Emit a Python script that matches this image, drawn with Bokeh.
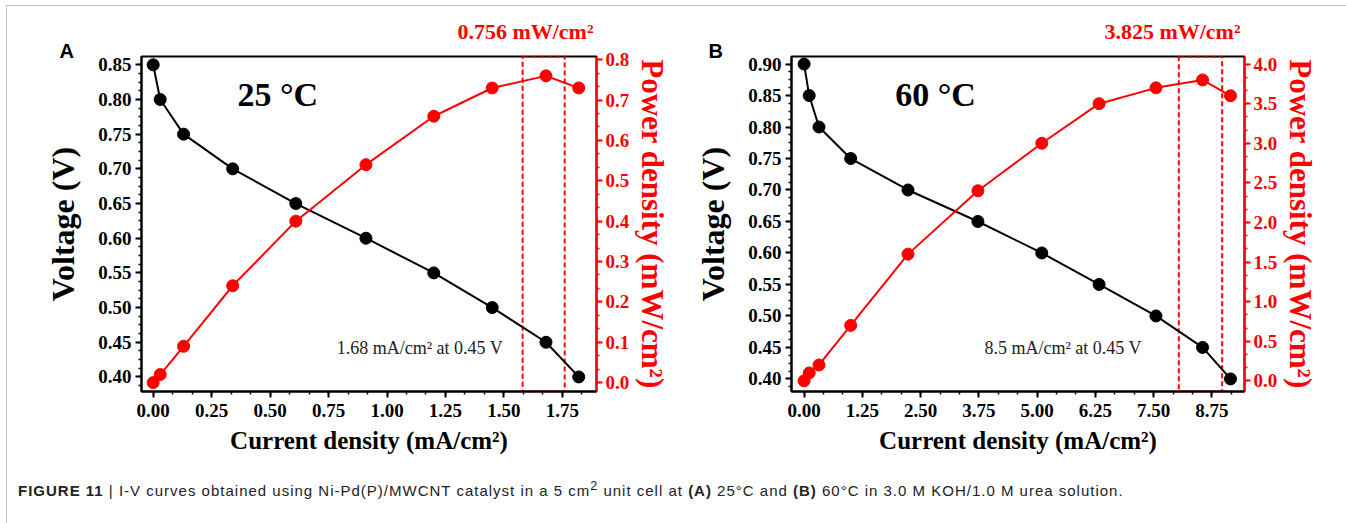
from bokeh.plotting import figure
from bokeh.models import (Range1d, LinearAxis, SingleIntervalTicker,
                          PrintfTickFormatter, Label, Div, Title)
from bokeh.layouts import row, column
from bokeh.embed import file_html
from bokeh.resources import INLINE

# ---------------- data ----------------
# Panel A : 25 °C
current_a = [0.00, 0.03, 0.13, 0.34, 0.61, 0.91, 1.20, 1.45, 1.68, 1.82]
voltage_a = [0.85, 0.80, 0.75, 0.70, 0.65, 0.60, 0.55, 0.50, 0.45, 0.40]
power_a = [0.00, 0.02, 0.09, 0.24, 0.40, 0.54, 0.66, 0.73, 0.76, 0.73]
box_a = [1.58, 1.76]          # highlighted current-density window

# Panel B : 60 °C
current_b = [0.00, 0.11, 0.32, 1.00, 2.23, 3.73, 5.10, 6.33, 7.55, 8.55, 9.15]
voltage_b = [0.90, 0.85, 0.80, 0.75, 0.70, 0.65, 0.60, 0.55, 0.50, 0.45, 0.40]
power_b = [0.00, 0.10, 0.20, 0.70, 1.60, 2.40, 3.00, 3.50, 3.70, 3.80, 3.60]
box_b = [8.04, 8.97]

SERIF = "Liberation Serif"
RED = "#ff0000"


def style_axis(ax, color, tick_size, label_size, label_standoff, tick_standoff):
    ax.axis_line_color = color
    ax.axis_line_width = 2
    ax.major_tick_line_color = color
    ax.minor_tick_line_color = color
    ax.major_tick_line_width = 2
    ax.minor_tick_line_width = 1.5
    ax.major_tick_in = 0
    ax.major_tick_out = 6
    ax.minor_tick_in = 0
    ax.minor_tick_out = 3
    ax.major_label_text_font = SERIF
    ax.major_label_text_font_style = "bold"
    ax.major_label_text_font_size = tick_size
    ax.major_label_text_color = color
    ax.major_label_standoff = tick_standoff
    ax.axis_label_text_font = SERIF
    ax.axis_label_text_font_style = "bold"
    ax.axis_label_text_font_size = label_size
    ax.axis_label_text_color = color
    ax.axis_label_standoff = label_standoff


def make_panel(cur, volt, pw, box, xr, yr, pr, x_int, v_int, p_int,
               min_left, fw, temp_text, temp_x, temp_y,
               peak_text, peak_offset, note_text, note_x, note_y,
               letter, letter_offset):
    p = figure(frame_width=fw, frame_height=335,
               x_range=Range1d(*xr), y_range=Range1d(*yr),
               output_backend="svg", toolbar_location=None,
               min_border_left=min_left, min_border_right=95,
               min_border_top=50, min_border_bottom=70,
               background_fill_color="white", border_fill_color="white")
    p.extra_y_ranges = {"power": Range1d(*pr)}
    p.grid.visible = False
    p.outline_line_color = "black"
    p.outline_line_width = 2

    # peak power annotation (above the frame, right aligned)
    p.title = Title(text=peak_text, align="right", offset=peak_offset,
                    standoff=0, text_font=SERIF, text_font_style="bold",
                    text_font_size="22px", text_color=RED)
    # panel letter (title row next to the frame)
    p.add_layout(Title(text=letter, align="left", offset=letter_offset,
                       standoff=-11, text_font="Liberation Sans",
                       text_font_style="bold", text_font_size="20px",
                       text_color="black"), "above")

    p.xaxis.ticker = SingleIntervalTicker(interval=x_int, num_minor_ticks=3)
    p.xaxis.formatter = PrintfTickFormatter(format="%.2f")
    p.xaxis.axis_label = "Current density (mA/cm²)"
    style_axis(p.xaxis[0], "black", "19px", "25px", 7, 6)

    p.yaxis.ticker = SingleIntervalTicker(interval=v_int, num_minor_ticks=4)
    p.yaxis.formatter = PrintfTickFormatter(format="%.2f")
    p.yaxis.axis_label = "Voltage (V)"
    style_axis(p.yaxis[0], "black", "19px", "32px", 14, 4)

    ax_r = LinearAxis(y_range_name="power",
                      ticker=SingleIntervalTicker(interval=p_int, num_minor_ticks=3),
                      formatter=PrintfTickFormatter(format="%.1f"),
                      axis_label="Power density (mW/cm²)")
    style_axis(ax_r, RED, "19px", "31px", 3, 3)
    p.add_layout(ax_r, "right")

    # highlighted window
    p.quad(left=[box[0]], right=[box[1]], bottom=[pr[0]], top=[pr[1]],
           y_range_name="power", fill_alpha=0, line_color=RED,
           line_width=2, line_dash="5 3")

    # voltage curve
    p.line(cur, volt, line_color="black", line_width=2)
    p.scatter(cur, volt, size=12, fill_color="black", line_color="black")
    # power curve
    p.line(cur, pw, y_range_name="power", line_color=RED, line_width=2)
    p.scatter(cur, pw, y_range_name="power", size=12,
              fill_color=RED, line_color=RED)

    p.add_layout(Label(x=temp_x, y=temp_y, text=temp_text, text_font=SERIF,
                       text_font_style="bold", text_font_size="34px",
                       text_align="center", text_baseline="alphabetic",
                       text_color="black"))
    p.add_layout(Label(x=note_x, y=note_y, text=note_text, text_font=SERIF,
                       text_font_size="18px", text_align="left",
                       text_baseline="alphabetic", text_color="#222222"))
    return p


pA = make_panel(current_a, voltage_a, power_a, box_a,
                (-0.05, 1.896), (0.379, 0.862), (-0.022, 0.808),
                0.25, 0.05, 0.1, 134, 455,
                "25 °C", 0.533, 0.807,
                "0.756 mW/cm²", 3,
                "1.68 mA/cm² at 0.45 V", 0.785, 0.4415,
                "A", -82)

pB = make_panel(current_b, voltage_b, power_b, box_b,
                (-0.27, 9.45), (0.380, 0.912), (-0.135, 4.096),
                1.25, 0.05, 0.5, 100, 453,
                "60 °C", 2.82, 0.851,
                "3.825 mW/cm²", 4,
                "8.5 mA/cm² at 0.45 V", 3.87, 0.4497,
                "B", -83)

caption = Div(
    text=('<b>FIGURE 11</b> | I-V curves obtained using Ni-Pd(P)/MWCNT catalyst '
          'in a 5 cm<sup>2</sup> unit cell at <b>(A)</b> 25°C and <b>(B)</b> 60°C '
          'in 3.0 M KOH/1.0 M urea solution.'),
    width=1330, height=55,
    styles={"font-family": "Liberation Sans, Arial, sans-serif",
            "font-size": "15px", "letter-spacing": "1px",
            "color": "#222222",
            "padding-left": "6px", "padding-top": "12px"})

layout = column(row(pA, pB, spacing=0), caption, spacing=0,
                margin=(5, 0, 0, 6),
                styles={"border": "1px solid #c4c4c4", "background": "white"})

open("out.html", "w").write(file_html(layout, INLINE))
